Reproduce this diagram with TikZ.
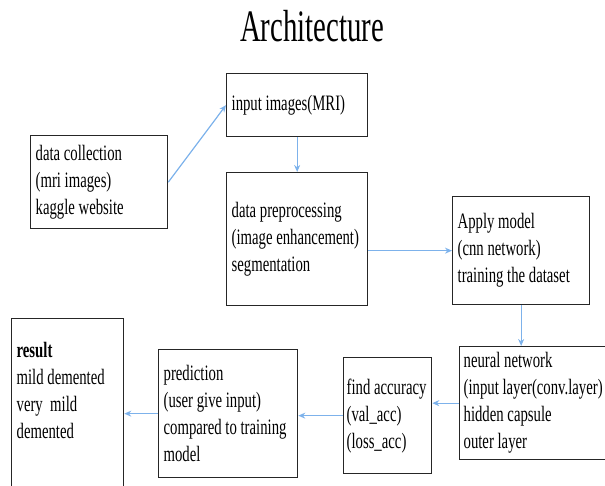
\documentclass[tikz,border=0pt]{standalone}
\usepackage{fontspec}
\usepackage{tikz}
\usetikzlibrary{arrows.meta,positioning}
\newfontfamily\diagfont[FakeStretch=0.67]{Liberation Serif}
\newfontfamily\headfont[FakeStretch=0.64]{Liberation Serif}
\definecolor{arrblue}{RGB}{125,178,235}
\hyphenpenalty=10000
\tikzset{box/.style={draw=black!85,line width=1.3pt,anchor=north west,align=left,inner xsep=5pt,inner ysep=0pt,
    font=\diagfont\fontsize{22}{27}\selectfont,execute at begin node={\spaceskip=3.7pt plus 1pt minus 0.5pt\relax}},
  arr/.style={-{Stealth[length=7pt,width=6pt]},arrblue,line width=1.2pt}}

\begin{document}
\begin{tikzpicture}[x=1pt,y=-1pt,>=Stealth]
\clip (0,0) rectangle (605,485);
\node[font=\headfont\fontsize{45}{45}\selectfont] (title) at (312,26) {Architecture};
\node[box,text width=127pt,minimum height=93pt] (collect) at (30,135) {data collection\\(mri images)\\kaggle website};
\node[box,text width=131pt,minimum height=63pt] (input) at (226,73) {input images(MRI)};
\node[box,text width=131pt,minimum height=133pt] (prep) at (226,172) {data preprocessing\\(image enhancement)\\segmentation};
\node[box,text width=127pt,minimum height=108pt] (apply) at (452,196) {Apply model\\(cnn network)\\training the dataset};
\node[box,inner xsep=4pt,text width=147pt,minimum height=113pt] (neural) at (459,346) {neural network\\(input layer(conv.layer)\\hidden capsule\\outer layer};
\node[box,inner xsep=3pt,text width=82pt,minimum height=116pt] (acc) at (343,357) {find accuracy\\(val\_acc)\\(loss\_acc)};
\node[box,text width=129pt,minimum height=128pt] (pred) at (158,349) {prediction\\(user give input)\\compared to training\\model};
\node[box,text width=102pt,minimum height=170pt] (result) at (11,318) {\textbf{result}\\mild demented\\very\ \ mild\\demented\\\mbox{}};
\draw[arr] (collect.east) -- (input.west);
\draw[arr] (input.south) -- (prep.north);
\draw[arr] (prep.east |- apply.west) -- (apply.west);
\draw[arr] (apply.south) -- (apply.south |- neural.north);
\draw[arr] (neural.west) -- (neural.west -| acc.east);
\draw[arr] (acc.west) -- (acc.west -| pred.east);
\draw[arr] (pred.west) -- (pred.west -| result.east);
\end{tikzpicture}
\end{document}
